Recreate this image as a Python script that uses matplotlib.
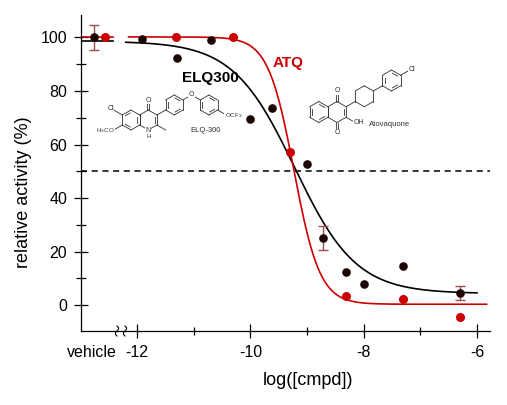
import numpy as np
import matplotlib
matplotlib.use("Agg")
import matplotlib.pyplot as plt
from matplotlib.ticker import FixedLocator

plt.rcParams['font.family'] = ['Liberation Sans', 'DejaVu Sans']

# ---------------------------------------------------------
# data
vehicle_x_elq = -12.76
vehicle_x_atq = -12.57

elq_x = [-11.91, -11.30, -10.70, -10.00, -9.62, -9.00, -8.72, -8.31, -8.00, -7.30, -6.30]
elq_y = [99.6, 92.5, 99.2, 69.6, 73.8, 52.9, 25.1, 12.4, 7.9, 14.6, 4.5]
elq_vehicle = 100.0
elq_vehicle_err = 4.7
elq_err_x = [-8.72, -6.30]
elq_err_y = [25.1, 4.5]
elq_err = [4.5, 2.5]

atq_x = [-11.31, -10.30, -9.30, -8.31, -7.30, -6.30]
atq_y = [100.0, 100.0, 57.3, 3.4, 2.3, -4.5]
atq_vehicle = 100.0

# fitted dose-response curves (top, bottom, logIC50, hill slope)
elq_fit = (98.6, 4.3, -9.22, 0.8)
atq_fit = (100.2, 0.3, -9.23, 1.9)

xticks_major = [-12, -10, -8, -6]
xticks_minor = [-11, -9, -7]
yticks_major = [0, 20, 40, 60, 80, 100]
yticks_minor = [10, 30, 50, 70, 90]

black = '#1c0404'
red = '#cc0000'
errcol = '#9c5050'


def hill(x, top, bottom, c, h):
    return bottom + (top - bottom) / (1 + 10 ** ((x - c) * h))


fig = plt.figure(figsize=(5.07, 4.05), dpi=100)
ax = fig.add_axes([81 / 507, 74 / 405, 409 / 507, 316 / 405])

# curves
xs = np.linspace(-12.2, -6.0, 300)
ax.plot(xs, hill(xs, *elq_fit), color='black', lw=1.2, zorder=2)
xs2 = np.linspace(-12.15, -5.83, 300)
ax.plot(xs2, hill(xs2, *atq_fit), color=red, lw=1.2, zorder=2)
ax.plot([-12.97, -12.42], [atq_fit[0], atq_fit[0]], color=red, lw=1.2, zorder=2)
ax.plot([-12.97, -12.42], [elq_fit[0], elq_fit[0]], color='black', lw=1.2, zorder=2)

# 50 % line
ax.axhline(50, color='black', lw=1.1, ls=(0, (4, 3)), zorder=1)

# error bars
ax.errorbar([vehicle_x_elq] + elq_err_x, [elq_vehicle] + elq_err_y,
            yerr=[elq_vehicle_err] + elq_err, fmt='none', ecolor=errcol,
            elinewidth=1.0, capsize=3.5, capthick=1.0, zorder=3)

# points
ax.plot(elq_x + [vehicle_x_elq], elq_y + [elq_vehicle], 'o', color=black, ms=6.2, mec='none', zorder=4)
ax.plot(atq_x + [vehicle_x_atq], atq_y + [atq_vehicle], 'o', color=red, ms=6.5, mec='none', zorder=4)

ax.set_xlim(-12.99, -5.77)
ax.set_ylim(-9.7, 108.4)
for s in ['top', 'right']:
    ax.spines[s].set_visible(False)
for s in ['left', 'bottom']:
    ax.spines[s].set_linewidth(0.9)

ax.xaxis.set_major_locator(FixedLocator(xticks_major))
ax.xaxis.set_minor_locator(FixedLocator(xticks_minor))
ax.yaxis.set_major_locator(FixedLocator(yticks_major))
ax.yaxis.set_minor_locator(FixedLocator(yticks_minor))
ax.tick_params(axis='x', which='major', direction='inout', length=10, width=0.9, labelsize=11.5, pad=5)
ax.tick_params(axis='x', which='minor', direction='inout', length=5.5, width=0.9)
ax.tick_params(axis='y', which='major', direction='inout', length=10, width=0.9, labelsize=11.5, pad=5)
ax.tick_params(axis='y', which='minor', direction='inout', length=7, width=0.9)
ax.set_xticklabels([str(t) for t in xticks_major])

ax.text(-12.79, -0.069, 'vehicle', transform=ax.get_xaxis_transform(), ha='center', va='center', fontsize=11.5)

ax.set_xlabel('log([cmpd])', fontsize=13)
ax.xaxis.set_label_coords(0.554, -0.13)
ax.set_ylabel('relative activity (%)', fontsize=13)
ax.yaxis.set_label_coords(-0.12, 0.438)

ax.text(-10.71, 84.9, 'ELQ300', fontsize=11, fontweight='bold', ha='center', va='center')
ax.text(-9.34, 90.5, 'ATQ', fontsize=11, fontweight='bold', color=red, ha='center', va='center')

# ---------------------------------------------------------
# chemical structures, drawn in pixel space on an overlay
ov = fig.add_axes([0, 0, 1, 1], zorder=5)
ov.set_xlim(0, 507)
ov.set_ylim(405, 0)
ov.axis('off')
ov.patch.set_alpha(0)
sc = '#303030'
lw_s = 0.6


def hexagon(cx, cy, b, inner=()):
    pts = []
    for k in range(6):
        a = np.radians(-90 + 60 * k)
        pts.append((cx + b * np.cos(a), cy + b * np.sin(a)))
    for i in range(6):
        p, q = pts[i], pts[(i + 1) % 6]
        ov.plot([p[0], q[0]], [p[1], q[1]], color=sc, lw=lw_s)
    for i in inner:
        p, q = np.array(pts[i]), np.array(pts[(i + 1) % 6])
        c = np.array([cx, cy])
        p2 = c + 0.75 * (p - c)
        q2 = c + 0.75 * (q - c)
        d = q2 - p2
        p3, q3 = p2 + 0.12 * d, q2 - 0.12 * d
        ov.plot([p3[0], q3[0]], [p3[1], q3[1]], color=sc, lw=lw_s)
    return pts


def bond(p, q, dbl=False):
    if dbl:
        d = np.array(q) - np.array(p)
        n = np.array([-d[1], d[0]]) / np.hypot(*d) * 1.1
        for s in (-1, 1):
            ov.plot([p[0] + s * n[0], q[0] + s * n[0]], [p[1] + s * n[1], q[1] + s * n[1]], color=sc, lw=lw_s)
    else:
        ov.plot([p[0], q[0]], [p[1], q[1]], color=sc, lw=lw_s)


def atom(x, y, t, ha='center', fs=5):
    ov.text(x, y, t, fontsize=fs, ha=ha, va='center', color=sc,
            bbox=dict(facecolor='white', edgecolor='none', pad=0.3))


r3 = np.sqrt(3) / 2

# ELQ-300
b = 10
ra = hexagon(131, 120, b, inner=(5, 1, 3))
rb = hexagon(131 + 2 * r3 * b, 120, b, inner=(1,))
bond(ra[5], (ra[5][0] - r3 * b, ra[5][1] - b / 2))
atom(ra[5][0] - r3 * b - 3, ra[5][1] - b / 2 - 1, 'Cl')
bond(ra[4], (ra[4][0] - r3 * b, ra[4][1] + b / 2))
atom(ra[4][0] - r3 * b + 1, ra[4][1] + b / 2 + 1, 'H$_3$CO', ha='right', fs=4.5)
bond(rb[0], (rb[0][0], rb[0][1] - 8), dbl=True)
atom(rb[0][0], rb[0][1] - 10, 'O')
bond(rb[2], (rb[2][0] + r3 * b, rb[2][1] + b / 2))
atom(rb[3][0], rb[3][1] + 0.5, 'N')
atom(rb[3][0], rb[3][1] + 6.5, 'H', fs=4.5)
p1c = (rb[1][0] + 2 * r3 * b, rb[1][1] - b)
bond(rb[1], (rb[1][0] + r3 * b, rb[1][1] - b / 2))
p1 = hexagon(p1c[0], p1c[1], b, inner=(0, 2, 4))
o_x, o_y = p1[1][0] + r3 * b, p1[1][1] - b / 2
bond(p1[1], (o_x, o_y))
bond((o_x, o_y), (o_x + r3 * b, o_y + b / 2))
atom(o_x, o_y - 0.5, 'O')
p2 = hexagon(o_x + 2 * r3 * b, o_y + b, b, inner=(0, 2, 4))
bond(p2[2], (p2[2][0] + r3 * b, p2[2][1] + b / 2))
atom(p2[2][0] + r3 * b - 1.5, p2[2][1] + b / 2 + 1, 'OCF$_3$', ha='left', fs=4.5)
ov.text(190, 131, 'ELQ-300', fontsize=5.5, ha='left', va='center', color=sc)

# Atovaquone
b = 10.5
qb = hexagon(337, 112, b, inner=(1,))
qa = hexagon(337 - 2 * r3 * b, 112, b, inner=(0, 2, 4))
bond(qb[0], (qb[0][0], qb[0][1] - 8), dbl=True)
atom(qb[0][0], qb[0][1] - 10.5, 'O')
bond(qb[3], (qb[3][0], qb[3][1] + 8), dbl=True)
atom(qb[3][0], qb[3][1] + 10.5, 'O')
bond(qb[2], (qb[2][0] + r3 * b, qb[2][1] + b / 2))
atom(qb[2][0] + r3 * b - 1.5, qb[2][1] + b / 2 + 0.5, 'OH', ha='left')
bond(qb[1], (qb[1][0] + r3 * b, qb[1][1] - b / 2))
cy = hexagon(qb[1][0] + 2 * r3 * b, qb[1][1] - b, b)
bond(cy[1], (cy[1][0] + r3 * b, cy[1][1] - b / 2))
ph = hexagon(cy[1][0] + 2 * r3 * b, cy[1][1] - b, b, inner=(0, 2, 4))
bond(ph[1], (ph[1][0] + r3 * b, ph[1][1] - b / 2))
atom(ph[1][0] + r3 * b - 1, ph[1][1] - b / 2 - 0.5, 'Cl', ha='left')
ov.text(369, 125, 'Atovaquone', fontsize=5.5, ha='left', va='center', color=sc)

# axis break marks
t = np.linspace(0, 1, 40)
for x0 in (117, 125):
    ov.plot(x0 + 1.6 * np.sin(2 * np.pi * t), 331 - 5 + 10 * t, color='black', lw=0.8)

fig.savefig('out.png', dpi=100)
